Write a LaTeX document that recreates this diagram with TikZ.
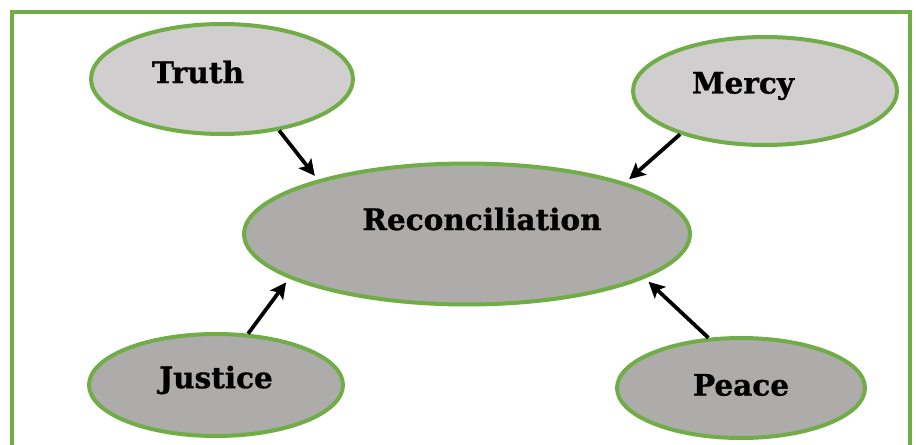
\documentclass[tikz,border=0pt]{standalone}
\usepackage{fontspec}
\setmainfont{DejaVu Serif}
\newfontfamily\heavyserif[FakeBold=1]{DejaVu Serif Bold}
\usetikzlibrary{shapes.geometric,arrows.meta}
\definecolor{framegreen}{HTML}{70AD47}
\definecolor{lightfill}{HTML}{D0CECE}
\definecolor{darkfill}{HTML}{AEABAB}
\begin{document}
\begin{tikzpicture}
   [x=0.02cm, y=-0.02cm,
    bubble/.style={ellipse, draw=framegreen, line width=0.08cm, inner sep=0pt},
    word/.style={font=\heavyserif\fontsize{16.8}{20}\selectfont},
    arr/.style={line width=0.075cm, -{Stealth[length=3.2mm,width=3.2mm,inset=0.7mm]}}]
   \useasboundingbox (0,0) rectangle (916,444);
   \clip (0,0) rectangle (916,444);
   \draw[framegreen, line width=0.08cm] (12,12) rectangle (910,470);

   \node[bubble, fill=lightfill, minimum width=5.24cm, minimum height=2.2cm,
         label={[word, xshift=-0.48cm, yshift=0.14cm]center:Truth}] (truth) at (222,79) {};
   \node[bubble, fill=lightfill, minimum width=5.28cm, minimum height=2.16cm,
         label={[word, xshift=-0.44cm, yshift=0.1cm]center:Mercy}] (mercy) at (765,91) {};
   \node[bubble, fill=darkfill, minimum width=8.92cm, minimum height=2.82cm,
         label={[word, xshift=0.3cm, yshift=0.3cm]center:Reconciliation}] (recon) at (467,234) {};
   \node[bubble, fill=darkfill, minimum width=5.08cm, minimum height=2.04cm,
         label={[word, yshift=0.1cm]center:Justice}] (justice) at (216,385) {};
   \node[bubble, fill=darkfill, minimum width=4.96cm, minimum height=2.0cm,
         label={[word, yshift=0.06cm]center:Peace}] (peace) at (741,388) {};

   \draw[arr, shorten >=0.1cm] (truth.-42) -- (recon.160);
   \draw[arr, shorten >=0.1cm] (mercy.-153) -- (recon.18);
   \draw[arr, shorten >=0.1cm] (justice.58) -- (recon.-166);
   \draw[arr, shorten >=0.1cm] (peace.123) -- (recon.-14);
\end{tikzpicture}
\end{document}
